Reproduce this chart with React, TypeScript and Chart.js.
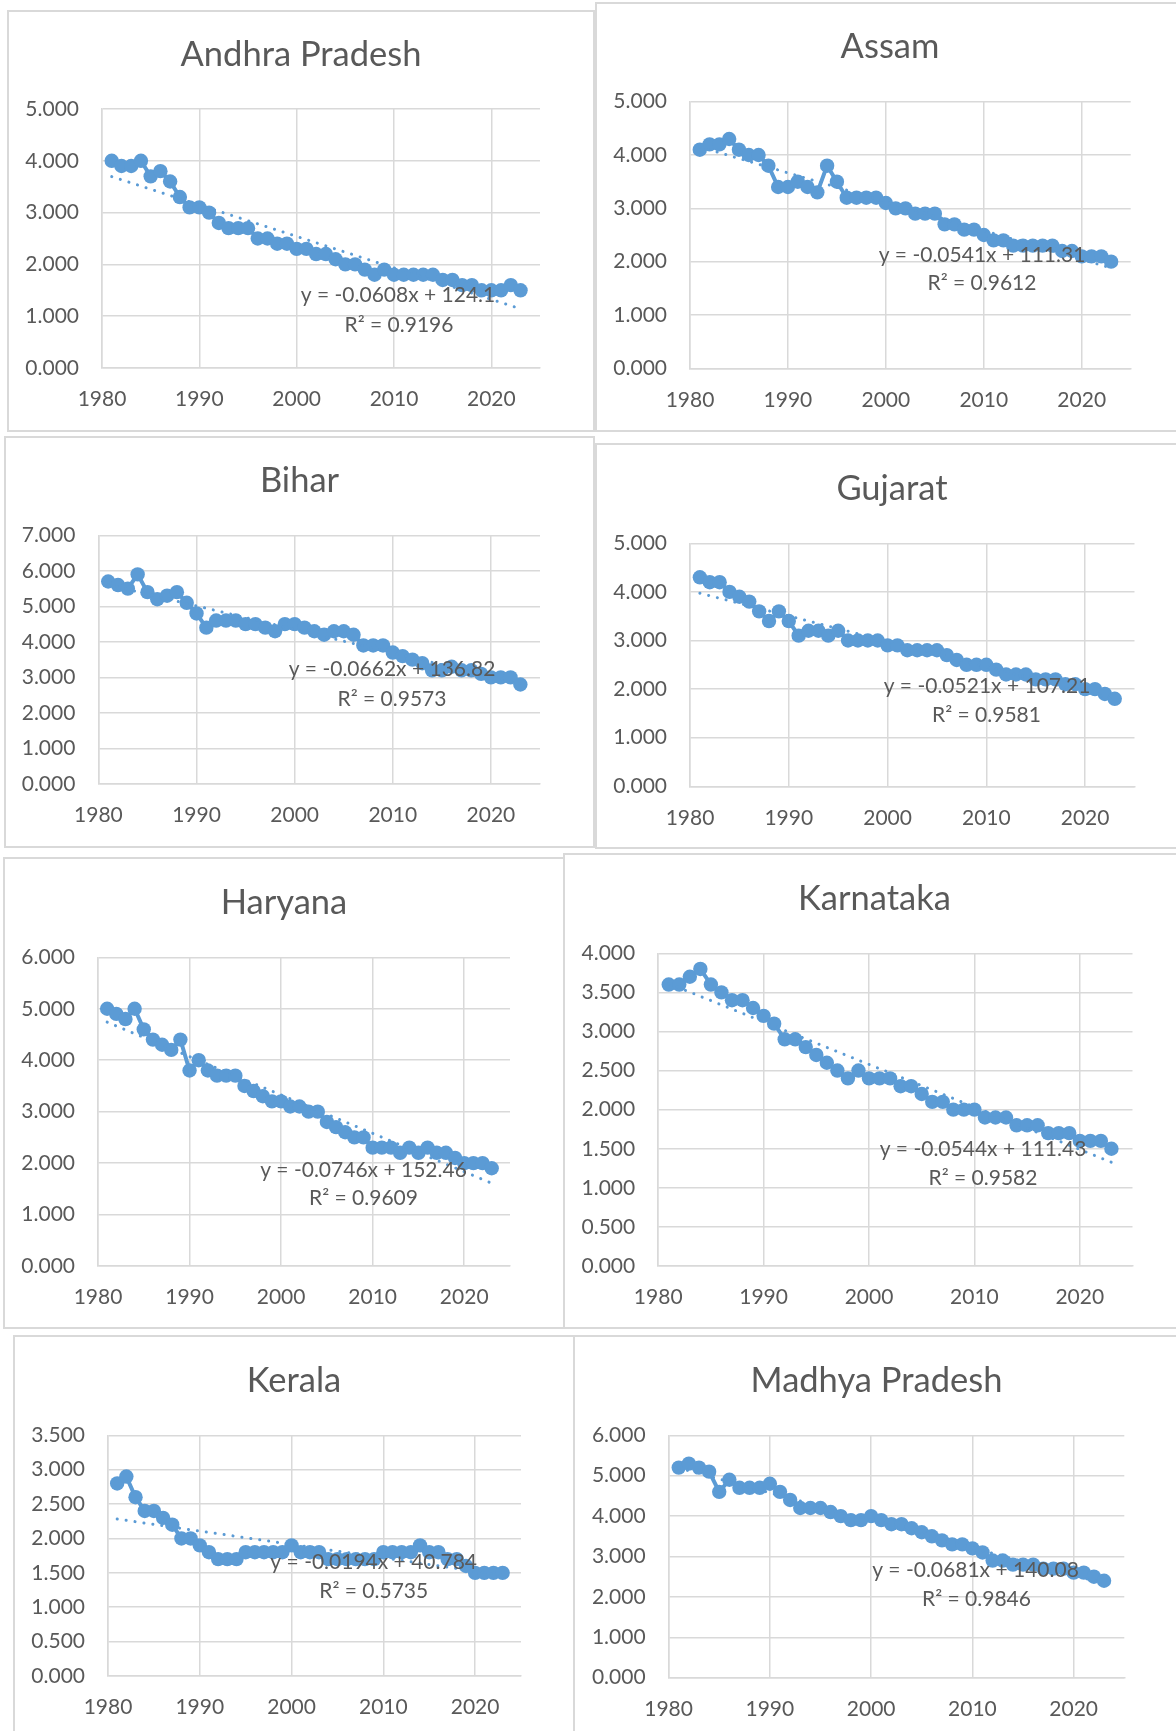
import React, { useEffect, useRef } from 'react';
import { Chart, registerables } from 'chart.js';

Chart.register(...registerables);

// ---------- DATA ----------
const years = [
  1981, 1982, 1983, 1984, 1985, 1986, 1987, 1988, 1989, 1990,
  1991, 1992, 1993, 1994, 1995, 1996, 1997, 1998, 1999, 2000,
  2001, 2002, 2003, 2004, 2005, 2006, 2007, 2008, 2009, 2010,
  2011, 2012, 2013, 2014, 2015, 2016, 2017, 2018, 2019, 2020,
  2021, 2022, 2023,
];

const andhraPradesh = [
  4.0, 3.9, 3.9, 4.0, 3.7, 3.8, 3.6, 3.3, 3.1, 3.1,
  3.0, 2.8, 2.7, 2.7, 2.7, 2.5, 2.5, 2.4, 2.4, 2.3,
  2.3, 2.2, 2.2, 2.1, 2.0, 2.0, 1.9, 1.8, 1.9, 1.8,
  1.8, 1.8, 1.8, 1.8, 1.7, 1.7, 1.6, 1.6, 1.5, 1.5,
  1.5, 1.6, 1.5,
];
const assam = [
  4.1, 4.2, 4.2, 4.3, 4.1, 4.0, 4.0, 3.8, 3.4, 3.4,
  3.5, 3.4, 3.3, 3.8, 3.5, 3.2, 3.2, 3.2, 3.2, 3.1,
  3.0, 3.0, 2.9, 2.9, 2.9, 2.7, 2.7, 2.6, 2.6, 2.5,
  2.4, 2.4, 2.3, 2.3, 2.3, 2.3, 2.3, 2.2, 2.2, 2.1,
  2.1, 2.1, 2.0,
];
const bihar = [
  5.7, 5.6, 5.5, 5.9, 5.4, 5.2, 5.3, 5.4, 5.1, 4.8,
  4.4, 4.6, 4.6, 4.6, 4.5, 4.5, 4.4, 4.3, 4.5, 4.5,
  4.4, 4.3, 4.2, 4.3, 4.3, 4.2, 3.9, 3.9, 3.9, 3.7,
  3.6, 3.5, 3.4, 3.2, 3.2, 3.3, 3.2, 3.2, 3.1, 3.0,
  3.0, 3.0, 2.8,
];
const gujarat = [
  4.3, 4.2, 4.2, 4.0, 3.9, 3.8, 3.6, 3.4, 3.6, 3.4,
  3.1, 3.2, 3.2, 3.1, 3.2, 3.0, 3.0, 3.0, 3.0, 2.9,
  2.9, 2.8, 2.8, 2.8, 2.8, 2.7, 2.6, 2.5, 2.5, 2.5,
  2.4, 2.3, 2.3, 2.3, 2.2, 2.2, 2.2, 2.1, 2.1, 2.0,
  2.0, 1.9, 1.8,
];
const haryana = [
  5.0, 4.9, 4.8, 5.0, 4.6, 4.4, 4.3, 4.2, 4.4, 3.8,
  4.0, 3.8, 3.7, 3.7, 3.7, 3.5, 3.4, 3.3, 3.2, 3.2,
  3.1, 3.1, 3.0, 3.0, 2.8, 2.7, 2.6, 2.5, 2.5, 2.3,
  2.3, 2.3, 2.2, 2.3, 2.2, 2.3, 2.2, 2.2, 2.1, 2.0,
  2.0, 2.0, 1.9,
];
const karnataka = [
  3.6, 3.6, 3.7, 3.8, 3.6, 3.5, 3.4, 3.4, 3.3, 3.2,
  3.1, 2.9, 2.9, 2.8, 2.7, 2.6, 2.5, 2.4, 2.5, 2.4,
  2.4, 2.4, 2.3, 2.3, 2.2, 2.1, 2.1, 2.0, 2.0, 2.0,
  1.9, 1.9, 1.9, 1.8, 1.8, 1.8, 1.7, 1.7, 1.7, 1.6,
  1.6, 1.6, 1.5,
];
const kerala = [
  2.8, 2.9, 2.6, 2.4, 2.4, 2.3, 2.2, 2.0, 2.0, 1.9,
  1.8, 1.7, 1.7, 1.7, 1.8, 1.8, 1.8, 1.8, 1.8, 1.9,
  1.8, 1.8, 1.8, 1.7, 1.7, 1.7, 1.7, 1.7, 1.7, 1.8,
  1.8, 1.8, 1.8, 1.9, 1.8, 1.8, 1.7, 1.7, 1.6, 1.5,
  1.5, 1.5, 1.5,
];
const madhyaPradesh = [
  5.2, 5.3, 5.2, 5.1, 4.6, 4.9, 4.7, 4.7, 4.7, 4.8,
  4.6, 4.4, 4.2, 4.2, 4.2, 4.1, 4.0, 3.9, 3.9, 4.0,
  3.9, 3.8, 3.8, 3.7, 3.6, 3.5, 3.4, 3.3, 3.3, 3.2,
  3.1, 2.9, 2.9, 2.8, 2.8, 2.8, 2.7, 2.7, 2.7, 2.6,
  2.6, 2.5, 2.4,
];

const stateNames = [
  'Andhra Pradesh', 'Assam', 'Bihar', 'Gujarat',
  'Haryana', 'Karnataka', 'Kerala', 'Madhya Pradesh',
];
const stateSeries = [
  andhraPradesh, assam, bihar, gujarat,
  haryana, karnataka, kerala, madhyaPradesh,
];
const yAxisMax = [5, 5, 7, 5, 6, 4, 3.5, 6];
const yAxisStep = [1, 1, 1, 1, 1, 0.5, 0.5, 1];
const xAxisMin = 1980;
const xAxisMax = 2025;
const xAxisStep = 10;
const trendEquations = [
  'y = -0.0608x + 124.1',
  'y = -0.0541x + 111.31',
  'y = -0.0662x + 136.82',
  'y = -0.0521x + 107.21',
  'y = -0.0746x + 152.46',
  'y = -0.0544x + 111.43',
  'y = -0.0194x + 40.784',
  'y = -0.0681x + 140.08',
];
const trendR2 = [
  'R² = 0.9196', 'R² = 0.9612', 'R² = 0.9573', 'R² = 0.9581',
  'R² = 0.9609', 'R² = 0.9582', 'R² = 0.5735', 'R² = 0.9846',
];

// ---------- LAYOUT (page coordinates) ----------
type Layout = {
  box: number[]; // left, top, right, bottom (outer)
  plot: number[]; // left, top, right, bottom
  titleY: number;
  eq: number[]; // center x,y
  r2: number[]; // center x,y
};
const LAYOUT: Layout[] = [
  { box: [7, 10, 595, 432], plot: [102, 109, 540, 368], titleY: 55, eq: [398, 295], r2: [399, 325] },
  { box: [595, 2, 1185, 432], plot: [690, 101.7, 1130.7, 368.3], titleY: 46.7, eq: [982, 255], r2: [982, 283] },
  { box: [4, 436, 595, 848], plot: [98.4, 535.3, 540, 784], titleY: 480.7, eq: [392, 669], r2: [392, 699] },
  { box: [595, 443, 1189, 849], plot: [690, 543.3, 1134.5, 786.3], titleY: 489.3, eq: [987, 686.7], r2: [986.5, 715] },
  { box: [3, 857, 565, 1329], plot: [98, 957.3, 510, 1266], titleY: 902.7, eq: [363.5, 1170], r2: [363.5, 1198] },
  { box: [563, 853, 1186, 1329], plot: [658.2, 953.3, 1132.5, 1266], titleY: 899.3, eq: [983, 1149], r2: [983, 1178] },
  { box: [13, 1335, 575, 1735], plot: [108, 1435.3, 521, 1676], titleY: 1380.7, eq: [373.7, 1562], r2: [373.7, 1591] },
  { box: [573, 1335, 1180, 1735], plot: [668.6, 1435.3, 1124.3, 1677.7], titleY: 1380.7, eq: [975.5, 1570], r2: [976.5, 1599.3] },
];

const BLUE = '#5B9BD5';
const TEXT = '#595959';
const GRID = '#D9D9D9';
const FONT = 'Lato, "Open Sans", sans-serif';
const TITLE_SIZE = 34.5;
const TICK_SIZE = 21;
const LABEL_SIZE = 21;
const BORDER = 2;
const X_AXIS_H = 50;

function linearFit(xs: number[], ys: number[]) {
  const n = xs.length;
  let sx = 0, sy = 0, sxx = 0, sxy = 0;
  for (let i = 0; i < n; i++) {
    sx += xs[i]; sy += ys[i]; sxx += xs[i] * xs[i]; sxy += xs[i] * ys[i];
  }
  const slope = (n * sxy - sx * sy) / (n * sxx - sx * sx);
  const intercept = (sy - slope * sx) / n;
  return { slope, intercept };
}

function Panel({ idx }: { idx: number }) {
  const ref = useRef<HTMLCanvasElement>(null);
  const L = LAYOUT[idx];
  const cx = L.box[0] + BORDER;
  const cy = L.box[1] + BORDER;
  const cw = L.box[2] - L.box[0] - 2 * BORDER;
  const ch = L.box[3] - L.box[1] - 2 * BORDER;

  useEffect(() => {
    if (!ref.current) return;
    const pl = L.plot[0] - cx;
    const pt = L.plot[1] - cy;
    const pr = L.plot[2] - cx;
    const pb = L.plot[3] - cy;
    const tY = L.titleY - cy;
    const tLH = TITLE_SIZE * 1.2;
    const values = stateSeries[idx];
    const points = years.map((x, i) => ({ x, y: values[i] }));
    const fit = linearFit(years, values);
    const x0 = years[0];
    const x1 = years[years.length - 1];
    const trendPts = [
      { x: x0, y: fit.intercept + fit.slope * x0 },
      { x: x1, y: fit.intercept + fit.slope * x1 },
    ];

    const labelPlugin = {
      id: 'trendLabel',
      afterDatasetsDraw(chart: any) {
        const ctx = chart.ctx;
        ctx.save();
        ctx.font = `${LABEL_SIZE}px ${FONT}`;
        ctx.fillStyle = TEXT;
        ctx.textAlign = 'center';
        ctx.textBaseline = 'middle';
        ctx.fillText(trendEquations[idx], L.eq[0] - cx, L.eq[1] - cy);
        ctx.fillText(trendR2[idx], L.r2[0] - cx, L.r2[1] - cy);
        ctx.restore();
      },
    };

    const chart = new Chart(ref.current, {
      type: 'scatter',
      data: {
        datasets: [
          {
            data: trendPts,
            showLine: true,
            borderColor: BLUE,
            borderWidth: 3,
            borderDash: [0.1, 8.9],
            borderCapStyle: 'round',
            pointRadius: 0,
            pointHoverRadius: 0,
            order: 1,
          },
          {
            data: points,
            showLine: true,
            borderColor: BLUE,
            backgroundColor: BLUE,
            borderWidth: 4,
            pointRadius: 7.2,
            pointHoverRadius: 7.2,
            pointBorderWidth: 0,
            pointBackgroundColor: BLUE,
            order: 2,
          },
        ],
      } as any,
      options: {
        animation: false,
        responsive: false,
        maintainAspectRatio: false,
        events: [],
        layout: {
          padding: { left: 0, top: 0, right: 0, bottom: ch - pb - X_AXIS_H },
        },
        plugins: {
          legend: { display: false },
          tooltip: { enabled: false },
          title: {
            display: true,
            text: stateNames[idx],
            color: TEXT,
            font: { family: FONT, size: TITLE_SIZE, weight: 'normal', lineHeight: 1.2 },
            padding: { top: tY - tLH / 2, bottom: pt - tY - tLH / 2 },
          },
        },
        scales: {
          x: {
            type: 'linear',
            min: xAxisMin,
            max: xAxisMax,
            afterFit: (s: any) => { s.height = X_AXIS_H; },
            ticks: {
              stepSize: xAxisStep,
              includeBounds: false,
              autoSkip: false,
              maxRotation: 0,
              callback: (v: any) => String(v),
              color: TEXT,
              font: { family: FONT, size: TICK_SIZE },
              padding: 19,
            },
            grid: { color: GRID, lineWidth: 1.5, drawTicks: false },
            border: { color: GRID, width: 1.5 },
          },
          y: {
            type: 'linear',
            position: 'left',
            min: 0,
            max: yAxisMax[idx],
            afterFit: (s: any) => { s.width = pl; },
            ticks: {
              stepSize: yAxisStep[idx],
              autoSkip: false,
              callback: (v: any) => Number(v).toFixed(3),
              color: TEXT,
              font: { family: FONT, size: TICK_SIZE },
              padding: 23,
            },
            grid: { color: GRID, lineWidth: 1.5, drawTicks: false },
            border: { color: GRID, width: 1.5 },
          },
          // empty right-hand spacer so the plot ends where the reference's does
          spacer: {
            type: 'linear',
            position: 'right',
            display: true,
            afterFit: (s: any) => { s.width = cw - pr; },
            ticks: { display: false },
            grid: { display: false },
            border: { display: false },
          },
        },
      } as any,
      plugins: [labelPlugin],
    });
    return () => chart.destroy();
  }, [idx]);

  return (
    <div
      style={{
        position: 'absolute',
        left: L.box[0],
        top: L.box[1],
        width: L.box[2] - L.box[0],
        height: L.box[3] - L.box[1],
        boxSizing: 'border-box',
        border: `${BORDER}px solid ${GRID}`,
        background: '#fff',
      }}
    >
      <canvas
        ref={ref}
        width={cw}
        height={ch}
        style={{ display: 'block', width: cw, height: ch }}
      />
    </div>
  );
}

export default function App() {
  return (
    <div
      style={{
        position: 'fixed',
        left: 0,
        top: 0,
        width: 1176,
        height: 1731,
        overflow: 'hidden',
        background: '#fff',
      }}
    >
      {stateNames.map((_, i) => (
        <Panel key={i} idx={i} />
      ))}
    </div>
  );
}
